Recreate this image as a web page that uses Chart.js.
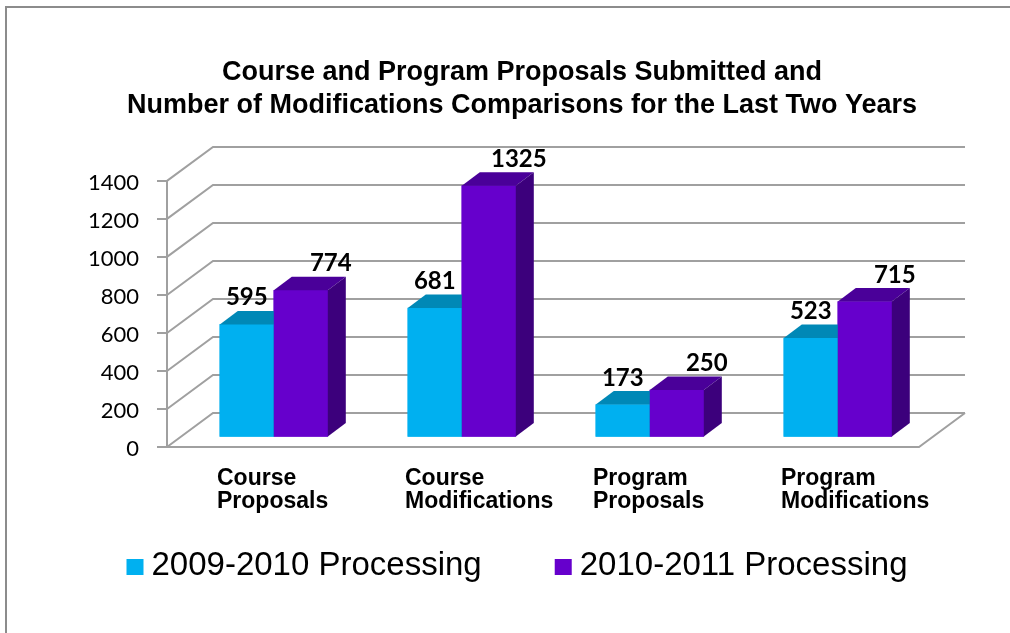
<!DOCTYPE html>
<html>
<head>
<meta charset="utf-8">
<script src="https://cdn.jsdelivr.net/npm/chart.js@4.4.1/dist/chart.umd.min.js"></script>
<style>
  html, body { margin: 0; padding: 0; background: #fff; }
</style>
</head>
<body>
<canvas id="proposalChart" width="1010" height="633"></canvas>
<script>
const categories = [["Course", "Proposals"], ["Course", "Modifications"], ["Program", "Proposals"], ["Program", "Modifications"]]
const seriesNames = ["2009-2010 Processing", "2010-2011 Processing"]
const processing0910 = [595, 681, 173, 523]
const processing1011 = [774, 1325, 250, 715]
const yTicks = [0, 200, 400, 600, 800, 1000, 1200, 1400]
const titleLines = ["Course and Program Proposals Submitted and", "Number of Modifications Comparisons for the Last Two Years"]

const COLORS = {
  blue: "#00b0f0",
  blueTop: "#0088b6",
  blueSide: "#006f94",
  purple: "#6600cc",
  purpleTop: "#4a0099",
  purpleSide: "#3c007c",
  grid: "#a0a0a0",
  frame: "#8c8c8c",
}

// fake 3d: back wall offset, how far the bars sit into the floor, bar depth
const DEPTH = { x: 46, y: -34 }
const BAR_SHIFT = { x: 12.8, y: -9.5 }
const BAR_DEPTH = { x: 18, y: -13.5 }
const LABEL_SHIFT = [0, 30]

const box3d = {
  id: "box3d",
  afterLayout(chart) {
    // let the y tick labels spill left of the axis box without being clipped
    chart.scales.y.left = 40
  },
  beforeDatasetsDraw(chart) {
    const { ctx, chartArea, scales } = chart
    const y = scales.y
    ctx.save()
    ctx.strokeStyle = COLORS.grid
    ctx.lineWidth = 2
    yTicks.forEach((v) => {
      const py = y.getPixelForValue(v)
      ctx.beginPath()
      ctx.moveTo(chartArea.left, py)
      ctx.lineTo(chartArea.left + DEPTH.x, py + DEPTH.y)
      ctx.lineTo(chartArea.right + DEPTH.x, py + DEPTH.y)
      ctx.stroke()
    })
    // floor edges
    const py0 = y.getPixelForValue(0)
    ctx.beginPath()
    ctx.moveTo(chartArea.left, py0)
    ctx.lineTo(chartArea.right, py0)
    ctx.lineTo(chartArea.right + DEPTH.x, py0 + DEPTH.y)
    ctx.stroke()
    ctx.restore()

    ctx.save()
    ctx.translate(BAR_SHIFT.x, BAR_SHIFT.y)
  },
  afterDatasetsDraw(chart) {
    const ctx = chart.ctx
    // paint faces in dataset order so the right bar covers the left one's side
    chart.data.datasets.forEach((ds, i) => {
      chart.getDatasetMeta(i).data.forEach((bar) => {
        const { x, y, base, width } = bar.getProps(["x", "y", "base", "width"], true)
        const l = x - width / 2
        const r = x + width / 2
        ctx.fillStyle = ds.backgroundColor
        ctx.fillRect(l, y, width, base - y)
        ctx.fillStyle = ds.topColor
        ctx.beginPath()
        ctx.moveTo(l, y)
        ctx.lineTo(l + BAR_DEPTH.x, y + BAR_DEPTH.y)
        ctx.lineTo(r + BAR_DEPTH.x, y + BAR_DEPTH.y)
        ctx.lineTo(r, y)
        ctx.closePath()
        ctx.fill()
        ctx.fillStyle = ds.sideColor
        ctx.beginPath()
        ctx.moveTo(r, y)
        ctx.lineTo(r + BAR_DEPTH.x, y + BAR_DEPTH.y)
        ctx.lineTo(r + BAR_DEPTH.x, base + BAR_DEPTH.y)
        ctx.lineTo(r, base)
        ctx.closePath()
        ctx.fill()
      })
    })

    ctx.font = "bold 24px Lato"
    ctx.fillStyle = "#000"
    ctx.textAlign = "center"
    ctx.textBaseline = "alphabetic"
    chart.data.datasets.forEach((ds, i) => {
      chart.getDatasetMeta(i).data.forEach((bar, j) => {
        ctx.fillText(String(ds.data[j]), bar.x + LABEL_SHIFT[i], bar.y - 19)
      })
    })
    ctx.restore()
  },
  afterDraw(chart) {
    const ctx = chart.ctx
    ctx.save()
    // outer frame
    ctx.strokeStyle = COLORS.frame
    ctx.lineWidth = 2
    ctx.beginPath()
    ctx.moveTo(6, chart.height)
    ctx.lineTo(6, 7)
    ctx.lineTo(chart.width, 7)
    ctx.stroke()

    // legend
    ctx.font = "33px 'Liberation Sans', Arial"
    ctx.textBaseline = "middle"
    ctx.textAlign = "left"
    const boxW = 17, boxH = 16, gap = 8, itemGap = 73
    const widths = seriesNames.map((t) => ctx.measureText(t).width)
    const total = widths.reduce((a, w) => a + boxW + gap + w, 0) + itemGap * (widths.length - 1)
    let x = 517 - total / 2
    const cy = 567
    chart.data.datasets.forEach((ds, i) => {
      ctx.fillStyle = ds.backgroundColor
      ctx.fillRect(x, cy - boxH / 2, boxW, boxH)
      ctx.fillStyle = "#000"
      ctx.fillText(seriesNames[i], x + boxW + gap, cy - 1)
      x += boxW + gap + widths[i] + itemGap
    })
    ctx.restore()
  },
}

const data = {
  labels: categories,
  datasets: [
    {
      label: seriesNames[0],
      data: processing0910,
      backgroundColor: COLORS.blue,
      topColor: COLORS.blueTop,
      sideColor: COLORS.blueSide,
      clip: false,
    },
    {
      label: seriesNames[1],
      data: processing1011,
      backgroundColor: COLORS.purple,
      topColor: COLORS.purpleTop,
      sideColor: COLORS.purpleSide,
      clip: false,
    },
  ],
}

const config = {
  type: "bar",
  data: data,
  options: {
    responsive: false,
    animation: false,
    barThickness: 54,
    layout: {
      padding: { left: 125, right: 91, top: 0, bottom: 100 },
    },
    plugins: {
      legend: { display: false },
      tooltip: { enabled: false },
      title: {
        display: true,
        text: titleLines,
        color: "#000",
        font: { family: "'Liberation Sans', Arial", size: 27, weight: "bold", lineHeight: 1.22 },
        padding: { top: 56, bottom: 59 },
      },
    },
    scales: {
      x: {
        grid: { display: false, drawTicks: false },
        border: { display: false },
        ticks: {
          color: "#000",
          font: { family: "'Liberation Sans', Arial", size: 23, weight: "bold", lineHeight: 1.0 },
          align: "start",
          labelOffset: -44,
          padding: 20,
          maxRotation: 0,
          autoSkip: false,
        },
      },
      y: {
        min: 0,
        max: 1400,
        afterBuildTicks: (scale) => {
          scale.ticks = yTicks.map((v) => ({ value: v }))
        },
        afterFit: (scale) => {
          scale.width = 42
        },
        grid: { drawOnChartArea: false, drawTicks: true, tickLength: 10, color: COLORS.grid, lineWidth: 2 },
        border: { display: true, color: COLORS.grid, width: 2 },
        ticks: {
          color: "#000",
          padding: 18,
          labelOffset: 2,
          font: { family: "Lato", size: 22 },
          callback: (v) => String(v),
        },
      },
    },
  },
  plugins: [box3d],
}

new Chart(document.getElementById("proposalChart"), config)
</script>
</body>
</html>
